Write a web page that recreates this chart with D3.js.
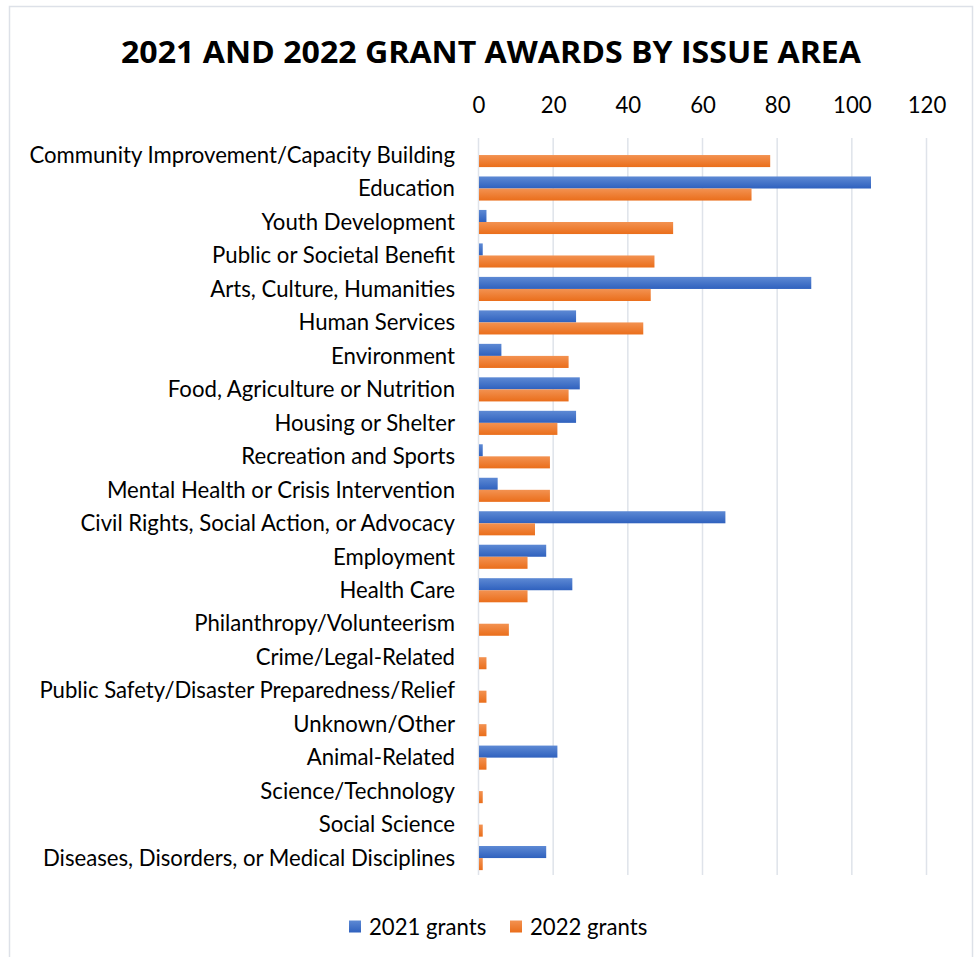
<!DOCTYPE html>
<html>
<head>
<meta charset="utf-8">
<script src="https://cdn.jsdelivr.net/npm/d3@7"></script>
<style>
  html, body { margin: 0; padding: 0; background: #fff; }
  svg { display: block; }
</style>
</head>
<body>
<svg id="chart" width="980" height="957"></svg>
<script>
const categories = [
  "Community Improvement/Capacity Building",
  "Education",
  "Youth Development",
  "Public or Societal Benefit",
  "Arts, Culture, Humanities",
  "Human Services",
  "Environment",
  "Food, Agriculture or Nutrition",
  "Housing or Shelter",
  "Recreation and Sports",
  "Mental Health or Crisis Intervention",
  "Civil Rights, Social Action, or Advocacy",
  "Employment",
  "Health Care",
  "Philanthropy/Volunteerism",
  "Crime/Legal-Related",
  "Public Safety/Disaster Preparedness/Relief",
  "Unknown/Other",
  "Animal-Related",
  "Science/Technology",
  "Social Science",
  "Diseases, Disorders, or Medical Disciplines"
];
const grants2021 = [0, 105, 2, 1, 89, 26, 6, 27, 26, 1, 5, 66, 18, 25, 0, 0, 0, 0, 21, 0, 0, 18];
const grants2022 = [78, 73, 52, 47, 46, 44, 24, 24, 21, 19, 19, 15, 13, 13, 8, 2, 2, 2, 2, 1, 1, 1];
const seriesNames = ["2021 grants", "2022 grants"];
const tickValues = [0, 20, 40, 60, 80, 100, 120];
const chartTitle = "2021 AND 2022 GRANT AWARDS BY ISSUE AREA";

const svg = d3.select("#chart");
const labelFont = "Lato, 'Open Sans', 'Noto Sans', sans-serif";
const titleFont = "'Open Sans', Lato, 'Noto Sans', sans-serif";

// gradients
const defs = svg.append("defs");
const grads = [
  {id: "gBlue", top: "#5d89d4", bot: "#2f61be"},
  {id: "gOrange", top: "#f39251", bot: "#ea6e1b"}
];
grads.forEach(g => {
  const lg = defs.append("linearGradient").attr("id", g.id)
    .attr("x1", 0).attr("y1", 0).attr("x2", 0).attr("y2", 1);
  lg.append("stop").attr("offset", "0%").attr("stop-color", g.top);
  lg.append("stop").attr("offset", "100%").attr("stop-color", g.bot);
});
const fills = ["url(#gBlue)", "url(#gOrange)"];
const legendFills = ["#4472c4", "#ed7d31"];

// outer border
svg.append("rect")
  .attr("x", 9.5).attr("y", 6.5).attr("width", 963).attr("height", 960)
  .attr("fill", "#fff").attr("stroke", "#dde1e8").attr("stroke-width", 1.5);

// title
svg.append("text")
  .attr("x", 491).attr("y", 63)
  .attr("text-anchor", "middle")
  .attr("font-family", titleFont)
  .attr("font-weight", "bold")
  .attr("font-size", 31)
  .attr("textLength", 740)
  .attr("lengthAdjust", "spacingAndGlyphs")
  .attr("fill", "#000")
  .text(chartTitle);

// scales
const x = d3.scaleLinear().domain([0, 120]).range([478.5, 926.5]);
const y = d3.scaleBand().domain(categories).range([138.3, 874.8]).paddingInner(0.28).paddingOuter(0.14);
const sub = d3.scaleBand().domain(seriesNames).range([0, y.bandwidth()]);

// measure label font size
const probe = svg.append("text").attr("font-family", labelFont).attr("font-size", 20).text(categories[0]);
const w20 = probe.node().getComputedTextLength();
probe.remove();
const labelSize = 20 * 426 / w20;

// gridlines
svg.append("g").selectAll("line").data(tickValues).join("line")
  .attr("x1", d => x(d)).attr("x2", d => x(d))
  .attr("y1", 138).attr("y2", 875)
  .attr("stroke", "#dfe3ea").attr("stroke-width", 1.5);

// top axis labels
const axis = d3.axisTop(x).tickValues(tickValues).tickSize(0).tickPadding(0);
const axG = svg.append("g").attr("transform", "translate(0,113)").call(axis);
axG.select(".domain").remove();
axG.selectAll("text")
  .attr("font-family", labelFont)
  .attr("font-size", labelSize)
  .attr("fill", "#000");

// category labels
const yAxis = d3.axisLeft(y).tickSize(0).tickPadding(0);
const yG = svg.append("g").attr("transform", "translate(455,0)").call(yAxis);
yG.select(".domain").remove();
yG.selectAll("text")
  .attr("font-family", labelFont)
  .attr("font-size", labelSize)
  .attr("fill", "#000")
  .attr("dy", "0.35em");

// bars
const seriesData = [grants2021, grants2022];
seriesNames.forEach((name, si) => {
  svg.append("g").selectAll("rect")
    .data(categories.map((c, i) => ({c, v: seriesData[si][i]})).filter(d => d.v > 0))
    .join("rect")
    .attr("x", x(0) + 0.5)
    .attr("y", d => y(d.c) + sub(name))
    .attr("width", d => x(d.v) - x(0))
    .attr("height", sub.bandwidth())
    .attr("fill", fills[si]);
});

// legend
const legendItems = [{x: 349, tx: 369}, {x: 510, tx: 530}];
seriesNames.forEach((name, i) => {
  svg.append("rect")
    .attr("x", legendItems[i].x).attr("y", 920.5)
    .attr("width", 12).attr("height", 12)
    .attr("fill", fills[i]);
  svg.append("text")
    .attr("x", legendItems[i].tx).attr("y", 927)
    .attr("dy", "0.35em")
    .attr("font-family", labelFont)
    .attr("font-size", labelSize)
    .attr("fill", "#000")
    .text(name);
});
</script>
</body>
</html>
